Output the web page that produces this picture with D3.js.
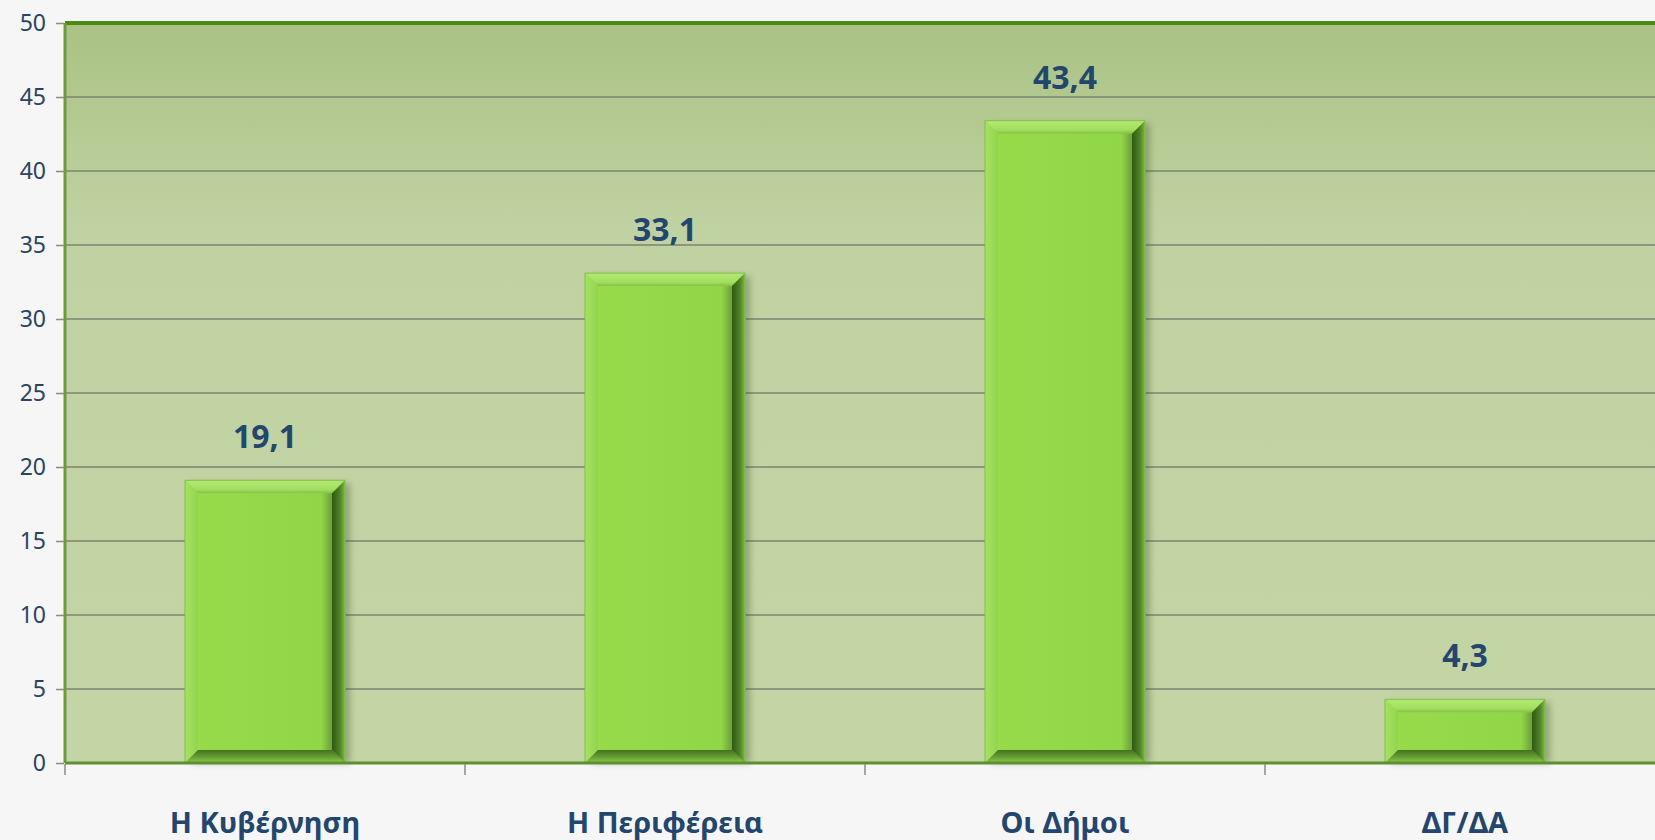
<!DOCTYPE html>
<html>
<head>
<meta charset="utf-8">
<script src="https://cdn.jsdelivr.net/npm/d3@7"></script>
<style>
  html, body { margin: 0; padding: 0; background: #f6f6f6; }
  svg { display: block; font-family: "Noto Sans", "DejaVu Sans", sans-serif; }
</style>
</head>
<body>
<div id="chart-container"></div>
<script>
// data
const categories = ["Η Κυβέρνηση", "Η Περιφέρεια", "Οι Δήμοι", "ΔΓ/ΔΑ"];
const values = [19.1, 33.1, 43.4, 4.3];
const valueLabels = ["19,1", "33,1", "43,4", "4,3"];
const yTicks = [0, 5, 10, 15, 20, 25, 30, 35, 40, 45, 50];

const fWidth = 1655, fHeight = 840;
const margin = {top: 23, left: 65};
const plotHeight = 740;
const plotRight = 1665;

const svg = d3.select("#chart-container").append("svg")
  .attr("width", fWidth)
  .attr("height", fHeight);

const defs = svg.append("defs");

function addGrad(id, horizontal, stops) {
  const g = defs.append("linearGradient")
    .attr("id", id)
    .attr("x1", 0).attr("y1", 0)
    .attr("x2", horizontal ? 1 : 0).attr("y2", horizontal ? 0 : 1);
  stops.forEach(s => g.append("stop").attr("offset", s[0]).attr("stop-color", s[1]));
}

addGrad("bg-grad", false, [["0%", "#aac284"], ["28%", "#c0d2a2"], ["100%", "#c3d4a5"]]);
addGrad("face-grad", true, [["0%", "#97db4b"], ["92%", "#91d646"], ["100%", "#6f9f3a"]]);
addGrad("top-grad", false, [["0%", "#b2e972"], ["70%", "#a2df5e"], ["100%", "#86bf48"]]);
addGrad("left-grad", true, [["0%", "#a6e262"], ["100%", "#93d44e"]]);
addGrad("right-grad", true, [["0%", "#2f5a14"], ["60%", "#4f8127"], ["100%", "#7cba40"]]);
addGrad("bottom-grad", false, [["0%", "#43701f"], ["55%", "#679f33"], ["100%", "#8ccb4a"]]);

const shadow = defs.append("filter")
  .attr("id", "bar-shadow")
  .attr("x", "-20%").attr("y", "-20%").attr("width", "150%").attr("height", "150%");
shadow.append("feGaussianBlur").attr("stdDeviation", 3);

const x = d3.scaleBand()
  .domain(categories)
  .range([margin.left, plotRight])
  .paddingInner(0.6)
  .paddingOuter(0.3);

const y = d3.scaleLinear()
  .domain([0, 50])
  .range([margin.top + plotHeight, margin.top]);

// plot background
svg.append("rect")
  .attr("x", margin.left)
  .attr("y", y(50))
  .attr("width", plotRight - margin.left)
  .attr("height", y(0) - y(50))
  .attr("fill", "url(#bg-grad)");

// gridlines
svg.append("g")
  .selectAll("line")
  .data(yTicks.filter(d => d > 0 && d < 50))
  .enter().append("line")
    .attr("x1", margin.left)
    .attr("x2", plotRight)
    .attr("y1", d => y(d))
    .attr("y2", d => y(d))
    .attr("stroke", "#7b8570")
    .attr("stroke-width", 1.6);

// top border
svg.append("line")
  .attr("x1", margin.left).attr("x2", plotRight)
  .attr("y1", y(50)).attr("y2", y(50))
  .attr("stroke", "#4a8a12")
  .attr("stroke-width", 4);

// left border
svg.append("line")
  .attr("x1", margin.left).attr("x2", margin.left)
  .attr("y1", y(50)).attr("y2", y(0))
  .attr("stroke", "#6c9a3c")
  .attr("stroke-width", 3);

// y axis
const yAxis = svg.append("g")
  .attr("transform", `translate(${margin.left - 1}, 0)`)
  .call(d3.axisLeft(y).tickValues(yTicks).tickSize(8).tickPadding(10));
yAxis.attr("font-family", null).attr("font-size", null);
yAxis.select(".domain").remove();
yAxis.selectAll(".tick line").attr("stroke", "#8a8a8a").attr("stroke-width", 1.5);
yAxis.selectAll("text")
  .attr("fill", "#2a4463")
  .style("font-size", "23px");

// bars
const bars = svg.append("g").selectAll(".bar")
  .data(values.map((v, i) => ({cat: categories[i], v: v, label: valueLabels[i]})))
  .enter().append("g")
    .classed("bar", true);

bars.append("rect")
  .attr("x", d => x(d.cat) + 5)
  .attr("y", d => y(d.v) + 3)
  .attr("width", x.bandwidth())
  .attr("height", d => y(0) - y(d.v) - 3)
  .attr("fill", "#3a4f25")
  .attr("opacity", 0.35)
  .attr("filter", "url(#bar-shadow)");

bars.append("rect")
  .attr("x", d => x(d.cat))
  .attr("y", d => y(d.v))
  .attr("width", x.bandwidth())
  .attr("height", d => y(0) - y(d.v))
  .attr("fill", "#8fd247");

const bev = 13;
const bevOf = d => Math.min(bev, (y(0) - y(d.v)) / 2 - 4);
function bevel(d, side) {
  const x0 = x(d.cat), x1 = x0 + x.bandwidth();
  const y0 = y(d.v), y1 = y(0);
  const b = bevOf(d);
  const p = {
    top: [[x0, y0], [x1, y0], [x1 - b, y0 + b], [x0 + b, y0 + b]],
    left: [[x0, y0], [x0 + b, y0 + b], [x0 + b, y1 - b], [x0, y1]],
    right: [[x1, y0], [x1, y1], [x1 - b, y1 - b], [x1 - b, y0 + b]],
    bottom: [[x0, y1], [x0 + b, y1 - b], [x1 - b, y1 - b], [x1, y1]]
  }[side];
  return "M" + p.map(q => q.join(",")).join("L") + "Z";
}

bars.append("path").attr("d", d => bevel(d, "top")).attr("fill", "url(#top-grad)");
bars.append("path").attr("d", d => bevel(d, "left")).attr("fill", "url(#left-grad)");
bars.append("path").attr("d", d => bevel(d, "bottom")).attr("fill", "url(#bottom-grad)");
bars.append("path").attr("d", d => bevel(d, "right")).attr("fill", "url(#right-grad)");

bars.append("rect")
  .attr("x", d => x(d.cat) + bevOf(d))
  .attr("y", d => y(d.v) + bevOf(d))
  .attr("width", d => x.bandwidth() - 2 * bevOf(d))
  .attr("height", d => y(0) - y(d.v) - 2 * bevOf(d))
  .attr("fill", "url(#face-grad)");

// thin outer rim
bars.append("rect")
  .attr("x", d => x(d.cat))
  .attr("y", d => y(d.v))
  .attr("width", x.bandwidth())
  .attr("height", d => y(0) - y(d.v))
  .attr("fill", "none")
  .attr("stroke", "#86bf4a")
  .attr("stroke-width", 1);

// value labels
bars.append("text")
  .attr("x", d => x(d.cat) + x.bandwidth() / 2)
  .attr("y", d => y(d.v) - 32)
  .attr("text-anchor", "middle")
  .attr("fill", "#23466f")
  .style("font-size", "32px")
  .style("font-weight", "bold")
  .text(d => d.label);

// x axis line
svg.append("line")
  .attr("x1", margin.left).attr("x2", plotRight)
  .attr("y1", y(0)).attr("y2", y(0))
  .attr("stroke", "#5f8f30")
  .attr("stroke-width", 3);

// x axis ticks at band edges
const step = x.step();
svg.append("g").selectAll("line")
  .data(categories)
  .enter().append("line")
    .attr("x1", d => x(d) - step * 0.3)
    .attr("x2", d => x(d) - step * 0.3)
    .attr("y1", y(0) + 1)
    .attr("y2", y(0) + 12)
    .attr("stroke", "#8a8a8a")
    .attr("stroke-width", 1.5);

// category labels
svg.append("g").selectAll("text")
  .data(categories)
  .enter().append("text")
    .attr("x", d => x(d) + x.bandwidth() / 2)
    .attr("y", 833)
    .attr("text-anchor", "middle")
    .attr("fill", "#23466f")
    .style("font-size", "29px")
    .style("font-weight", "bold")
    .text(d => d);
</script>
</body>
</html>
